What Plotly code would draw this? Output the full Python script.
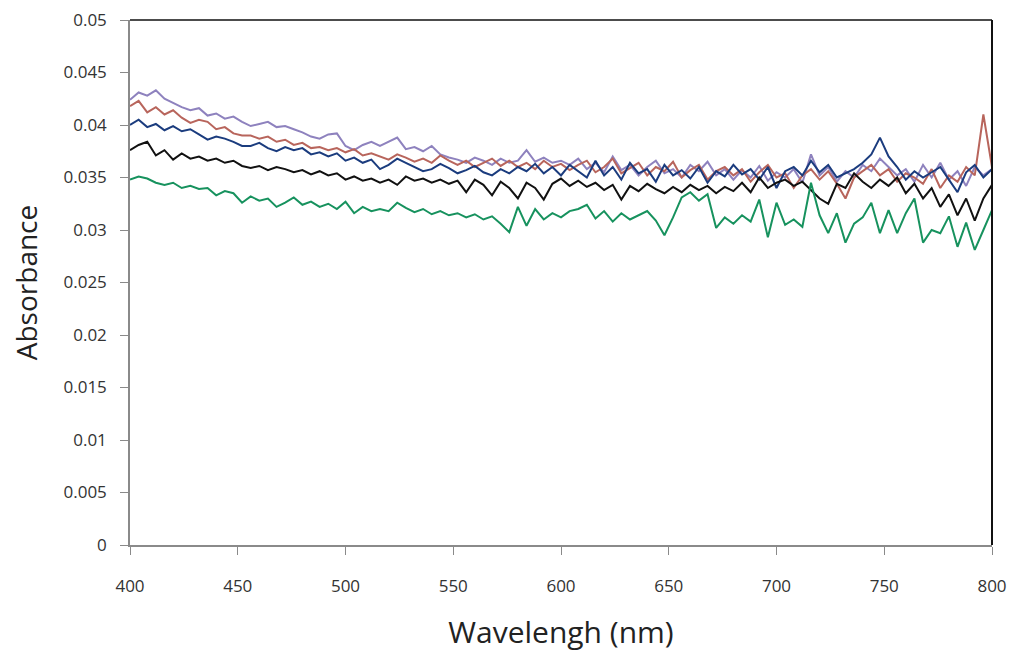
import numpy as np
import plotly.graph_objects as go

# Wavelength grid (nm), every 4 nm
wavelength = list(range(400, 801, 4))

# Absorbance values, in units of 1e-4
purple = [424, 431, 428, 433, 425, 421, 417, 414, 416, 409, 411, 406, 408, 403,
          399, 401, 403, 398, 399, 396, 393, 389, 387, 391, 392, 380, 376, 381, 384,
          380, 384, 388, 377, 379, 375, 380, 372, 369, 367, 364, 369, 366, 362, 368,
          364, 366, 376, 365, 369, 364, 366, 362,
          368, 358, 364, 355, 370, 357, 362, 352, 360, 366, 354, 358, 350, 362, 356,
          365, 352, 358, 348, 357, 350, 361, 347, 355,
          350, 358, 345, 372, 352, 360, 346, 356, 350, 362, 356, 368, 360, 352, 358,
          346, 362, 350, 364, 348, 356, 342, 360, 352, 358]
brown = [418, 423, 412, 417, 410, 414, 407, 402, 405, 403, 396, 398, 392, 390,
         390, 387, 389, 384, 386, 381, 383, 378, 379, 376, 378, 374, 377, 371, 373,
         370, 367, 372, 369, 365, 368, 364, 371, 366, 362, 366, 360, 364, 368, 361,
         366, 360, 364, 358, 366, 360, 363, 357,
         362, 366, 355, 360, 368, 354, 359, 364, 352, 360, 356, 365, 350, 357, 362,
         348, 356, 360, 352, 358, 346, 355, 362, 350,
         354, 340, 352, 358, 348, 356, 344, 330, 350, 356, 362, 352, 358, 346, 354,
         350, 344, 358, 340, 352, 346, 360, 352, 410, 360]
navy = [400, 405, 398, 401, 395, 399, 394, 396, 391, 386, 389, 387, 384, 380,
        380, 383, 378, 375, 379, 376, 378, 372, 374, 370, 373, 366, 369, 364, 367,
        358, 362, 368, 364, 360, 356, 358, 363, 359, 354, 357, 361, 355, 352, 358,
        354, 360, 356, 363, 354, 360, 352, 362,
        356, 350, 366, 352, 360, 348, 364, 354, 358, 346, 362, 352, 357, 349, 360,
        345, 356, 351, 362, 353, 358, 348, 360, 340,
        356, 360, 352, 366, 355, 362, 350, 354, 358, 364, 372, 388, 370, 360, 348,
        356, 350, 355, 360, 348, 336, 355, 362, 350, 358]
black = [376, 381, 384, 371, 376, 367, 373, 368, 370, 366, 368, 364, 366, 361,
         359, 361, 357, 360, 358, 355, 357, 353, 356, 352, 354, 348, 351, 347, 349,
         345, 348, 343, 351, 347, 349, 345, 348, 344, 347, 336, 348, 343, 333, 346,
         340, 330, 345, 340, 329, 344, 349, 342,
         347, 341, 345, 338, 343, 329, 342, 337, 344, 339, 335, 341, 336, 343, 338,
         342, 335, 341, 337, 345, 336, 350, 340, 345,
         348, 342, 346, 338, 330, 325, 344, 340, 354, 346, 340, 348, 342, 350, 335,
         344, 330, 340, 322, 334, 314, 330, 309, 330, 343]
green = [348, 351, 349, 345, 343, 345, 340, 342, 339, 340, 333, 337, 335, 326,
         332, 328, 330, 322, 326, 331, 324, 327, 322, 325, 320, 327, 316, 322, 318,
         320, 318, 326, 321, 317, 320, 315, 318, 314, 316, 312, 315, 310, 313, 306,
         298, 322, 304, 320, 310, 316, 312, 318,
         320, 324, 311, 318, 308, 316, 310, 314, 318, 309, 295, 312, 331, 336, 328,
         334, 302, 312, 306, 314, 308, 329, 293, 326,
         305, 310, 303, 345, 314, 297, 316, 288, 306, 312, 326, 297, 319, 297, 316,
         330, 288, 300, 297, 313, 284, 307, 281, 300, 319]

series = [
    ("purple", purple, "#8E82BE"),
    ("brown", brown, "#B8655C"),
    ("navy", navy, "#1B3C7E"),
    ("black", black, "#111111"),
    ("green", green, "#17925E"),
]

fig = go.Figure()
for name, vals, color in series:
    fig.add_trace(go.Scatter(
        x=wavelength, y=np.array(vals) / 1e4, mode="lines", name=name,
        line=dict(color=color, width=2), showlegend=False))

font_family = "Open Sans, DejaVu Sans, sans-serif"
fig.update_layout(
    width=1012, height=652,
    margin=dict(l=130, r=20, t=20, b=107, autoexpand=False),
    paper_bgcolor="white", plot_bgcolor="white",
    font=dict(family=font_family, color="#333333"),
    xaxis=dict(
        range=[400, 800], dtick=50, tick0=400,
        showgrid=False, zeroline=False, automargin=False,
        showline=True, linecolor="#8a8a8a", linewidth=1.5,
        ticks="outside", ticklen=8, tickcolor="#8a8a8a",
        ticklabelstandoff=17, ticklabeloverflow="allow",
        tickfont=dict(size=17, color="#333333"),
        title=dict(text="Wavelengh (nm)", font=dict(size=30, color="#222222"), standoff=30),
    ),
    yaxis=dict(
        range=[0, 0.05], dtick=0.005, tick0=0,
        showgrid=False, zeroline=False, automargin=False,
        showline=True, linecolor="#8a8a8a", linewidth=1.5,
        ticks="outside", ticklen=8, tickcolor="#8a8a8a",
        ticklabelstandoff=10,
        tickfont=dict(size=17, color="#333333"),
        title=dict(text="Absorbance", font=dict(size=28, color="#222222"), standoff=18),
    ),
    shapes=[
        dict(type="line", xref="paper", yref="paper", x0=0, x1=1, y0=1, y1=1,
             line=dict(color="#111111", width=1.5)),
        dict(type="line", xref="paper", yref="paper", x0=1, x1=1, y0=0, y1=1,
             line=dict(color="#111111", width=2)),
    ],
)

fig.write_html("out.html")
